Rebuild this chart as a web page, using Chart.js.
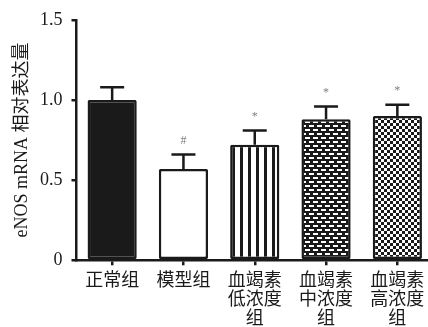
<!DOCTYPE html>
<html lang="zh">
<head>
	<meta charset="utf-8">
	<title>eNOS mRNA</title>
	<style>
		html, body { margin: 0; padding: 0; background: #fff; overflow: hidden; }
		#chart { display: block; }
	</style>
</head>
<body>
	<canvas id="chart" width="436" height="339"></canvas>
	<script src="https://cdn.jsdelivr.net/npm/chart.js@4.4.1/dist/chart.umd.min.js"></script>
	<script>
  var groups = ["正常组", "模型组", ["血竭素", "低浓度", "组"], ["血竭素", "中浓度", "组"], ["血竭素", "高浓度", "组"]];
  var means = [1.00, 0.57, 0.72, 0.88, 0.90];
  var errors = [0.08, 0.09, 0.09, 0.08, 0.07];
  var marks = ["", "#", "*", "*", "*"];
  var yTicks = [0, 0.5, 1.0, 1.5];

  var serif = "'Liberation Serif', 'Noto Sans CJK SC', serif";

  function makePattern(size, draw) {
  	var c = document.createElement("canvas");
  	c.width = size[0];
  	c.height = size[1];
  	var g = c.getContext("2d");
  	draw(g);
  	return document.getElementById("chart").getContext("2d").createPattern(c, "repeat");
  }

  // vertical stripes
  var stripes = makePattern([8, 8], function (g) {
  	g.fillStyle = "#fff";
  	g.fillRect(0, 0, 8, 8);
  	g.fillStyle = "#1a1a1a";
  	g.fillRect(0, 0, 3, 8);
  });
  // brick dashes
  var bricks = makePattern([8, 8], function (g) {
  	g.fillStyle = "#1a1a1a";
  	g.fillRect(0, 0, 8, 8);
  	g.fillStyle = "#fff";
  	g.fillRect(1, 1, 5, 2);
  	g.fillRect(5, 5, 3, 2);
  	g.fillRect(0, 5, 2, 2);
  });
  // checkerboard
  var checks = makePattern([6, 6], function (g) {
  	g.fillStyle = "#1a1a1a";
  	g.fillRect(0, 0, 6, 6);
  	g.fillStyle = "#fff";
  	g.fillRect(0, 0, 3, 3);
  	g.fillRect(3, 3, 3, 3);
  });

  var fills = ["#1a1a1a", "#fff", stripes, bricks, checks];

  var errorBars = {
  	id: "errorBars",
  	afterDatasetsDraw: function (chart) {
  		var ctx = chart.ctx;
  		var y = chart.scales.y;
  		var meta = chart.getDatasetMeta(0);
  		ctx.save();
  		ctx.strokeStyle = "#1a1a1a";
  		ctx.lineWidth = 2.5;
  		for (var i = 0; i < means.length; i++) {
  			var x = meta.data[i].x;
  			var yBase = y.getPixelForValue(means[i]);
  			var yTop = y.getPixelForValue(means[i] + errors[i]);
  			ctx.beginPath();
  			ctx.moveTo(x, yBase);
  			ctx.lineTo(x, yTop);
  			ctx.moveTo(x - 12, yTop);
  			ctx.lineTo(x + 12, yTop);
  			ctx.stroke();
  			if (marks[i]) {
  				ctx.fillStyle = "#808080";
  				ctx.font = "12px " + serif;
  				ctx.textAlign = "center";
  				ctx.textBaseline = "middle";
  				ctx.fillText(marks[i], x, yTop - 14);
  			}
  		}
  		ctx.restore();
  	}
  };

  new Chart(document.getElementById("chart"), {
  	type: "bar",
  	data: {
  		labels: groups,
  		datasets: [{
  			data: means,
  			backgroundColor: fills,
  			borderColor: "#1a1a1a",
  			borderWidth: 2.5,
  			borderSkipped: false,
  			borderRadius: 1.5,
  			barPercentage: 0.69,
  			categoryPercentage: 1
  		}]
  	},
  	options: {
  		responsive: false,
  		animation: false,
  		layout: { padding: { left: 11, top: 0, right: 3, bottom: 3 } },
  		plugins: {
  			legend: { display: false },
  			tooltip: { enabled: false }
  		},
  		scales: {
  			x: {
  				grid: {
  					display: true,
  					drawOnChartArea: false,
  					drawTicks: true,
  					offset: false,
  					tickLength: 5,
  					lineWidth: 2.5,
  					color: "#1a1a1a"
  				},
  				border: { display: true, width: 2.5, color: "#1a1a1a" },
  				ticks: {
  					color: "#1a1a1a",
  					padding: 7,
  					maxRotation: 0,
  					autoSkip: false,
  					font: { family: serif, size: 18, lineHeight: 1.05 }
  				}
  			},
  			y: {
  				min: 0,
  				max: 1.5,
  				afterBuildTicks: function (scale) {
  					scale.ticks = yTicks.map(function (v) { return { value: v }; });
  				},
  				grid: {
  					display: true,
  					drawOnChartArea: false,
  					drawTicks: true,
  					tickLength: 5,
  					lineWidth: 2.5,
  					color: "#1a1a1a"
  				},
  				border: { display: true, width: 2.5, color: "#1a1a1a" },
  				ticks: {
  					color: "#1a1a1a",
  					padding: 9,
  					font: { family: serif, size: 18 },
  					callback: function (v) { return v === 0 ? "0" : v.toFixed(1); }
  				},
  				title: {
  					display: true,
  					text: "eNOS mRNA 相对表达量",
  					color: "#1a1a1a",
  					padding: { top: 2, bottom: 0 },
  					font: { family: serif, size: 18, lineHeight: 1.0 }
  				}
  			}
  		}
  	},
  	plugins: [errorBars]
  });
	</script>
</body>
</html>
